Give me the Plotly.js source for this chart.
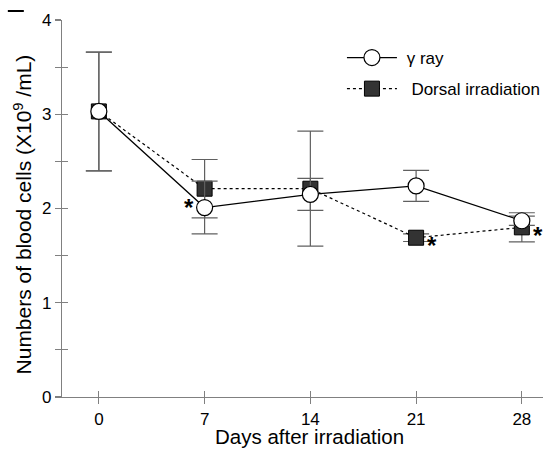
<!DOCTYPE html>
<html>
<head>
<meta charset="utf-8">
<script src="https://cdn.plot.ly/plotly-3.0.1.min.js"></script>
<style>html,body{margin:0;padding:0;background:#fff;}#chart{width:545px;height:449px;}</style>
</head>
<body>
<div id="chart"></div>
<script>
// ---- data ----
const days = [0, 7, 14, 21, 28];
const dayTickLabels = ['0', '7', '14', '21', '28'];
const gammaName = '\u00a0γ ray';
const gammaValues = [3.03, 2.01, 2.15, 2.24, 1.87];
const gammaErrors = [0.63, 0.28, 0.17, 0.165, 0.05];
const gammaSig = ['', '*', '', '', ''];
const dorsalName = '\u00a0\u00a0Dorsal irradiation';
const dorsalValues = [3.03, 2.21, 2.21, 1.69, 1.80];
const dorsalErrors = [0.63, 0.31, 0.61, 0.04, 0.155];
const dorsalSig = ['', '', '', '*', '*'];
const yTickVals = [0, 1, 2, 3, 4];
const yTitle = 'Numbers of blood cells (X10<sup>9</sup> /mL)';
const xTitle = 'Days after irradiation';

const font = 'Liberation Sans, Arial, Helvetica, sans-serif';
const axisColor = '#808080';
const errColor = '#606060';

const dorsal = {
  x: days, y: dorsalValues, name: dorsalName, type: 'scatter', mode: 'lines+markers',
  line: {color: '#000', width: 1.2, dash: 'dot'},
  marker: {symbol: 'square', size: 15, color: '#333', line: {color: '#000', width: 1}},
  error_y: {type: 'data', array: dorsalErrors, visible: true, color: errColor, thickness: 1.2, width: 13},
  legendrank: 2, legendgroup: 'b', cliponaxis: false
};
const gamma = {
  x: days, y: gammaValues, name: gammaName, type: 'scatter', mode: 'lines+markers',
  line: {color: '#000', width: 1.3},
  marker: {symbol: 'circle', size: 16, color: '#fff', line: {color: '#000', width: 1.2}},
  error_y: {type: 'data', array: gammaErrors, visible: true, color: errColor, thickness: 1.2, width: 13},
  legendrank: 1, legendgroup: 'a', cliponaxis: false
};
const dummy = {x: [], y: [], xaxis: 'x2', yaxis: 'y2', showlegend: false, hoverinfo: 'skip', type: 'scatter'};

const annotations = [];
function addSig(vals, sig, xs, ys) {
  sig.forEach((s, i) => {
    if (s) annotations.push({x: days[i], y: vals[i], text: '<b>' + s + '</b>', showarrow: false,
      xshift: xs, yshift: ys, font: {family: font, size: 24, color: '#000'}});
  });
}
addSig(gammaValues, gammaSig, -16, 0);
addSig(dorsalValues, dorsalSig, 16, -8);
annotations.push({xref: 'paper', yref: 'paper', x: -0.082, y: 0.483, xanchor: 'center', yanchor: 'middle',
  text: yTitle, textangle: -90, showarrow: false, font: {family: font, size: 21, color: '#000'}});
annotations.push({xref: 'paper', yref: 'paper', x: 0.515, y: -0.104, xanchor: 'center', yanchor: 'middle',
  text: xTitle, showarrow: false, font: {family: font, size: 20.5, color: '#000'}});

const xr = [-2.44, 29.4];
const yr = [0, 4];
const layout = {
  width: 545, height: 449,
  margin: {l: 62, r: 0, t: 20, b: 52},
  paper_bgcolor: '#fff', plot_bgcolor: '#fff',
  font: {family: font, color: '#000', size: 17},
  showlegend: true,
  legend: {x: 0.582, y: 0.947, xanchor: 'left', yanchor: 'top', font: {family: font, size: 17, color: '#000'},
           bgcolor: 'rgba(0,0,0,0)', tracegroupgap: 6, itemwidth: 50},
  xaxis: {range: xr, tickvals: days, ticktext: dayTickLabels, showgrid: false, zeroline: false,
          showline: true, linecolor: axisColor, linewidth: 1.2, ticks: 'outside', ticklen: 6,
          tickcolor: axisColor, tickwidth: 1.2, tickfont: {size: 17}},
  yaxis: {range: yr, tickvals: yTickVals, showgrid: false, zeroline: false,
          showline: true, linecolor: axisColor, linewidth: 1.2, ticks: 'outside', ticklen: 6,
          tickcolor: axisColor, tickwidth: 1.2, tickfont: {size: 17},
          minor: {dtick: 0.5, ticks: 'outside', ticklen: 6, tickcolor: axisColor, tickwidth: 1.2}},
  xaxis2: {overlaying: 'x', range: xr, tickvals: days, showticklabels: false, showgrid: false, zeroline: false,
           showline: false, ticks: 'inside', ticklen: 6, tickcolor: axisColor, tickwidth: 1.2, side: 'bottom', anchor: 'y2'},
  yaxis2: {overlaying: 'y', range: yr, tickvals: yTickVals, showticklabels: false, showgrid: false, zeroline: false,
           showline: false, ticks: 'inside', ticklen: 6, tickcolor: axisColor, tickwidth: 1.2, side: 'left', anchor: 'x2',
           minor: {dtick: 0.5, ticks: 'inside', ticklen: 6, tickcolor: axisColor, tickwidth: 1.2}},
  annotations: annotations,
  shapes: [{type: 'line', xref: 'paper', yref: 'paper', xsizemode: 'pixel', ysizemode: 'pixel',
            xanchor: -0.096, yanchor: 1, x0: -8, x1: 8, y0: 9, y1: 9, line: {color: '#000', width: 2}}]
};

Plotly.newPlot('chart', [dummy, dorsal, gamma], layout, {displayModeBar: false, staticPlot: true});
</script>
</body>
</html>
